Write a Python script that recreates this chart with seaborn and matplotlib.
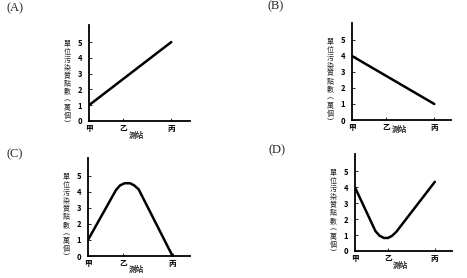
import matplotlib
matplotlib.use("Agg")
import matplotlib.pyplot as plt
import matplotlib.transforms as mtrans
import seaborn as sns
import pandas as pd

# ---- data ----
stations = ["甲", "乙", "丙"]
station_pos = [0, 1, 2.42]
y_ticks = [0, 1, 2, 3, 4, 5]
ylabel_text = "單位污染質點數︵萬個︶"
xlabel_text = "測站"
panel_names = ["(A)", "(B)", "(C)", "(D)"]

a_x = [0, 2.42]
a_y = [1.0, 5.0]
b_x = [0, 2.42]
b_y = [4.0, 1.0]
c_x = [0, 0.8, 0.92, 1.05, 1.2, 1.32, 1.45, 2.42]
c_y = [1.0, 4.1, 4.4, 4.53, 4.53, 4.4, 4.15, 0.0]
d_x = [0, 0.62, 0.75, 0.88, 1.0, 1.12, 1.25, 2.42]
d_y = [4.0, 1.25, 0.95, 0.82, 0.82, 0.95, 1.2, 4.35]

series = [(a_x, a_y), (b_x, b_y), (c_x, c_y), (d_x, d_y)]

# ---- layout (pixels in 467x278 figure) ----
W, H = 467, 278
axes_px = [  # left, right, top, bottom
    (89, 190, 25, 121),
    (352, 451, 23, 120),
    (88, 190, 158, 256),
    (355, 452, 154, 251),
]
ymax = [6.08, 6.06, 6.1, 6.1]
xmax = [2.97, 2.91, 2.92, 2.94]
label_px = [(15, 8), (276, 6), (15, 154), (277, 150)]
xlab_off = [14, 9, 13, 14]

sns.set_style("ticks")
plt.rcParams["font.family"] = ["Noto Sans CJK TC", "DejaVu Sans"]

fig = plt.figure(figsize=(W / 100, H / 100), dpi=100)

for i, ((xs, ys), (l, r, t, b)) in enumerate(zip(series, axes_px)):
    ax = fig.add_axes([l / W, 1 - b / H, (r - l) / W, (b - t) / H])
    df = pd.DataFrame({"x": xs, "y": ys})
    sns.lineplot(data=df, x="x", y="y", ax=ax, color="black", linewidth=1.8,
                 sort=False, estimator=None)
    ax.set_xlim(0, xmax[i])
    ax.set_ylim(0, ymax[i])
    ax.set_xticks(station_pos)
    ax.set_xticklabels(stations, fontsize=5.5, fontweight="bold")
    ax.set_yticks(y_ticks)
    ax.set_yticklabels([str(v) for v in y_ticks], fontsize=5.5, fontweight="bold")
    ax.tick_params(direction="in", length=2, width=0.6, colors="black")
    ax.tick_params(axis="y", pad=5)
    ax.tick_params(axis="x", pad=2)
    ax.set_xlabel("")
    ax.set_ylabel("")
    for s in ["top", "right"]:
        ax.spines[s].set_visible(False)
    for s in ["left", "bottom"]:
        ax.spines[s].set_linewidth(1.3)
        ax.spines[s].set_color("black")
    ax.set_facecolor("white")
    # vertical stacked y label
    tr = mtrans.blended_transform_factory(ax.transAxes, ax.transData)
    ax.text(-22 / (r - l), 5.15, "\n".join(ylabel_text), transform=tr,
            ha="center", va="top", fontsize=5,
            linespacing=1.0)
    # x label
    tr2 = mtrans.blended_transform_factory(ax.transData, ax.transAxes)
    ax.text(1.38, -xlab_off[i] / (b - t), xlabel_text, transform=tr2,
            ha="center", va="center", fontsize=5.5, fontweight="bold")
    # panel label
    fig.text(label_px[i][0] / W, 1 - label_px[i][1] / H, panel_names[i],
             ha="center", va="center", fontsize=9,
             family=["Liberation Serif", "DejaVu Serif"])

fig.savefig("out.png", dpi=100, facecolor="white")
